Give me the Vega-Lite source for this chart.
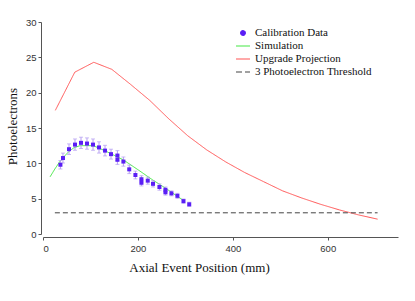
{
  "$schema": "https://vega.github.io/schema/vega-lite/v6.json",
  "width": 355,
  "height": 212,
  "autosize": {"type": "none"},
  "padding": {"left": 43, "top": 22, "right": 17, "bottom": 67},
  "background": "white",
  "config": {
    "view": {"stroke": null},
    "axis": {
      "grid": false,
      "domainColor": "#555555",
      "tickColor": "#555555",
      "tickSize": 3,
      "labelFont": "Liberation Sans",
      "labelFontSize": 9.5,
      "labelColor": "#333333",
      "titleFont": "Liberation Serif",
      "titleFontSize": 13,
      "titleFontWeight": "normal",
      "titleColor": "#111111"
    }
  },
  "datasets": {
    "calib": [
      {"x": 36.7, "y": 9.8, "lo": 9.2, "hi": 10.4, "series": "Calibration Data"},
      {"x": 42.1, "y": 10.75, "lo": 10.05, "hi": 11.45, "series": "Calibration Data"},
      {"x": 54.8, "y": 12.0, "lo": 11.25, "hi": 12.75, "series": "Calibration Data"},
      {"x": 67.4, "y": 12.65, "lo": 11.85, "hi": 13.45, "series": "Calibration Data"},
      {"x": 80.1, "y": 12.9, "lo": 12.1, "hi": 13.7, "series": "Calibration Data"},
      {"x": 92.7, "y": 12.8, "lo": 12.0, "hi": 13.6, "series": "Calibration Data"},
      {"x": 105.4, "y": 12.65, "lo": 11.85, "hi": 13.45, "series": "Calibration Data"},
      {"x": 118.0, "y": 12.25, "lo": 11.45, "hi": 13.05, "series": "Calibration Data"},
      {"x": 130.7, "y": 11.8, "lo": 11.05, "hi": 12.55, "series": "Calibration Data"},
      {"x": 143.3, "y": 11.3, "lo": 10.6, "hi": 12.0, "series": "Calibration Data"},
      {"x": 156.8, "y": 11.1, "lo": 10.4, "hi": 11.8, "series": "Calibration Data"},
      {"x": 156.8, "y": 10.5, "lo": 9.85, "hi": 11.15, "series": "Calibration Data"},
      {"x": 169.4, "y": 10.25, "lo": 9.6, "hi": 10.9, "series": "Calibration Data"},
      {"x": 181.7, "y": 9.15, "lo": 8.55, "hi": 9.75, "series": "Calibration Data"},
      {"x": 194.7, "y": 8.35, "lo": 7.8, "hi": 8.9, "series": "Calibration Data"},
      {"x": 207.4, "y": 7.75, "lo": 7.25, "hi": 8.25, "series": "Calibration Data"},
      {"x": 207.4, "y": 7.25, "lo": 6.8, "hi": 7.7, "series": "Calibration Data"},
      {"x": 220.7, "y": 7.55, "lo": 7.05, "hi": 8.05, "series": "Calibration Data"},
      {"x": 231.8, "y": 7.1, "lo": 6.65, "hi": 7.55, "series": "Calibration Data"},
      {"x": 245.3, "y": 6.65, "lo": 6.2, "hi": 7.1, "series": "Calibration Data"},
      {"x": 258.0, "y": 6.25, "lo": 5.85, "hi": 6.65, "series": "Calibration Data"},
      {"x": 258.0, "y": 5.9, "lo": 5.5, "hi": 6.3, "series": "Calibration Data"},
      {"x": 270.6, "y": 5.75, "lo": 5.4, "hi": 6.1, "series": "Calibration Data"},
      {"x": 283.2, "y": 5.4, "lo": 5.05, "hi": 5.75, "series": "Calibration Data"},
      {"x": 296.0, "y": 4.65, "lo": 4.35, "hi": 4.95, "series": "Calibration Data"},
      {"x": 308.1, "y": 4.2, "lo": 3.9, "hi": 4.5, "series": "Calibration Data"}
    ],
    "lines": [
      {"x": 15, "y": 8.1, "series": "Simulation"},
      {"x": 25, "y": 9.2, "series": "Simulation"},
      {"x": 35, "y": 10.2, "series": "Simulation"},
      {"x": 45, "y": 11.0, "series": "Simulation"},
      {"x": 55, "y": 11.7, "series": "Simulation"},
      {"x": 65, "y": 12.2, "series": "Simulation"},
      {"x": 78, "y": 12.5, "series": "Simulation"},
      {"x": 106, "y": 12.5, "series": "Simulation"},
      {"x": 130, "y": 11.8, "series": "Simulation"},
      {"x": 169, "y": 10.5, "series": "Simulation"},
      {"x": 200, "y": 9.1, "series": "Simulation"},
      {"x": 230, "y": 7.7, "series": "Simulation"},
      {"x": 260, "y": 6.4, "series": "Simulation"},
      {"x": 297, "y": 4.7, "series": "Simulation"},
      {"x": 26, "y": 17.5, "series": "Upgrade Projection"},
      {"x": 67, "y": 22.9, "series": "Upgrade Projection"},
      {"x": 107, "y": 24.3, "series": "Upgrade Projection"},
      {"x": 145, "y": 23.3, "series": "Upgrade Projection"},
      {"x": 184, "y": 21.2, "series": "Upgrade Projection"},
      {"x": 225, "y": 18.9, "series": "Upgrade Projection"},
      {"x": 265, "y": 16.3, "series": "Upgrade Projection"},
      {"x": 305, "y": 13.9, "series": "Upgrade Projection"},
      {"x": 345, "y": 11.9, "series": "Upgrade Projection"},
      {"x": 385, "y": 10.2, "series": "Upgrade Projection"},
      {"x": 425, "y": 8.7, "series": "Upgrade Projection"},
      {"x": 465, "y": 7.4, "series": "Upgrade Projection"},
      {"x": 505, "y": 6.1, "series": "Upgrade Projection"},
      {"x": 545, "y": 5.1, "series": "Upgrade Projection"},
      {"x": 585, "y": 4.2, "series": "Upgrade Projection"},
      {"x": 625, "y": 3.4, "series": "Upgrade Projection"},
      {"x": 665, "y": 2.7, "series": "Upgrade Projection"},
      {"x": 705, "y": 2.1, "series": "Upgrade Projection"},
      {"x": 25, "y": 3, "series": "3 Photoelectron Threshold"},
      {"x": 705, "y": 3, "series": "3 Photoelectron Threshold"}
    ]
  },
  "encoding": {
    "x": {
      "field": "x", "type": "quantitative",
      "scale": {"domain": [0, 748], "nice": false, "zero": false},
      "axis": {"values": [0, 200, 400, 600], "offset": 3, "title": "Axial Event Position (mm)", "labelPadding": 3, "titleX": 156, "titleY": 24}
    }
  },
  "layer": [
    {
      "data": {"name": "lines"},
      "mark": {"type": "line", "strokeWidth": 1},
      "encoding": {
        "y": {
          "field": "y", "type": "quantitative",
          "scale": {"domain": [0, 30], "nice": false},
          "axis": {"values": [0, 5, 10, 15, 20, 25, 30], "offset": 2, "title": "Photoelectrons", "labelPadding": 2, "titleX": -22, "titleY": 104}
        },
        "color": {
          "field": "series", "type": "nominal",
          "scale": {
            "domain": ["Calibration Data", "Simulation", "Upgrade Projection", "3 Photoelectron Threshold"],
            "range": ["#5a1ef5", "#44e844", "#ff5555", "#444444"]
          },
          "legend": {
            "title": null,
            "orient": "none",
            "legendX": 192,
            "legendY": 3,
            "labelFont": "Liberation Serif",
            "labelFontSize": 11,
            "labelColor": "#111111",
            "labelOffset": 4,
            "rowPadding": 0,
            "symbolSize": 196,
            "encode": {
              "symbols": {
                "update": {
                  "shape": {"signal": "datum.value === 'Calibration Data' ? 'circle' : 'stroke'"},
                  "size": {"signal": "datum.value === 'Calibration Data' ? 22 : 196"},
                  "strokeDash": {"signal": "datum.value === '3 Photoelectron Threshold' ? [6, 3] : [1, 0]"},
                  "fill": {"signal": "datum.value === 'Calibration Data' ? '#5a1ef5' : 'transparent'"},
                  "stroke": {"signal": "scale('color', datum.value)"},
                  "strokeWidth": {"value": 1.2},
                  "opacity": {"value": 1}
                }
              }
            }
          }
        },
        "strokeDash": {
          "field": "series", "type": "nominal",
          "scale": {
            "domain": ["Simulation", "Upgrade Projection", "3 Photoelectron Threshold"],
            "range": [[1, 0], [1, 0], [5, 3]]
          },
          "legend": null
        }
      }
    },
    {
      "data": {"name": "calib"},
      "mark": {"type": "errorbar", "color": "#b49cf2", "ticks": {"size": 4, "color": "#b49cf2"}, "thickness": 1},
      "encoding": {
        "y": {
          "field": "lo", "type": "quantitative",
          "axis": {"values": [0, 5, 10, 15, 20, 25, 30], "offset": 2, "title": "Photoelectrons", "labelPadding": 2, "titleX": -22, "titleY": 104}
        },
        "y2": {"field": "hi"}
      }
    },
    {
      "data": {"name": "calib"},
      "mark": {"type": "square", "filled": true, "size": 16, "opacity": 1},
      "encoding": {
        "y": {
          "field": "y", "type": "quantitative",
          "axis": {"values": [0, 5, 10, 15, 20, 25, 30], "offset": 2, "title": "Photoelectrons", "labelPadding": 2, "titleX": -22, "titleY": 104}
        },
        "color": {"field": "series", "type": "nominal"}
      }
    }
  ]
}
